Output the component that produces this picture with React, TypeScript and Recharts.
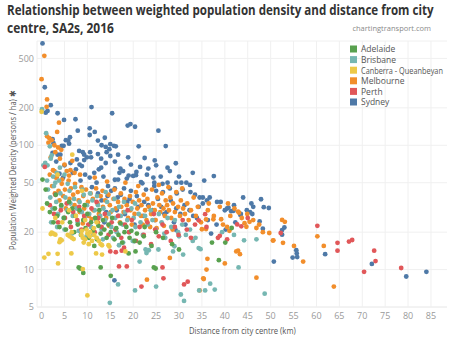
import React, { useLayoutEffect, useRef, useState } from 'react';
import { ScatterChart, Scatter, XAxis, YAxis, CartesianGrid } from 'recharts';

// [distance km, weighted density persons/ha]
const sydney: number[][] = [
  [0.2, 660], [0.7, 293], [0.9, 183], [1.3, 189], [2.0, 210], [3.5, 181], [4.9, 160], [7.4, 162], [10.9, 203], [7.9, 131],
  [15.4, 181], [18.8, 144], [19.4, 148], [20.4, 141], [10.5, 137], [11.6, 128], [10.5, 121], [13.8, 115], [2.4, 112], [2.6, 104],
  [5.3, 110], [5.8, 109], [6.2, 116], [6.0, 103], [4.4, 99], [4.8, 99], [12.3, 109], [13.1, 100], [12.3, 85], [14.0, 97],
  [15.0, 102], [15.8, 99], [16.2, 98], [14.8, 93], [21.2, 98], [8.2, 90], [9.0, 88], [9.3, 84], [10.6, 88], [10.8, 80],
  [13.0, 78], [16.7, 84], [15.0, 82], [14.2, 88], [7.7, 77], [9.3, 76], [9.9, 80], [8.3, 70], [8.8, 68], [2.4, 87],
  [3.5, 84], [4.1, 84], [3.2, 74], [5.0, 69], [6.3, 72], [7.5, 64], [3.9, 59], [4.7, 55], [18.9, 80], [16.0, 74],
  [21.5, 67], [23.3, 65], [20.7, 61], [20.6, 57.5], [20.0, 56.7], [24.7, 75.5], [29.3, 71.7], [25.5, 131], [27.1, 98.5], [18.6, 54],
  [16.7, 53], [16.0, 52.8], [21.7, 50.6], [22.0, 49.4], [24.6, 50], [24.6, 47], [27.5, 50], [26.4, 49], [29.4, 50], [30.5, 50],
  [31.6, 50], [32.4, 48], [24.4, 55], [37.6, 56.5], [17.2, 65], [17.8, 62], [12.5, 64], [11.5, 60], [13.5, 56], [10.5, 55],
  [14.5, 47], [16.0, 45], [18.0, 45], [19.5, 43], [12.0, 50], [8.5, 52], [11.0, 46], [22.8, 44], [25.0, 43], [26.5, 42],
  [28.0, 45], [29.5, 41], [30.8, 44], [32.5, 42], [33.5, 40], [34.5, 38], [35.2, 38], [35.2, 34], [36.7, 38], [38.3, 35],
  [39.1, 35], [40.5, 31], [41.4, 29.5], [41.9, 29.7], [43.4, 27.5], [44.8, 30], [45.5, 29], [46.2, 32], [46.0, 28], [47.9, 36.8],
  [48.5, 31.8], [49.6, 31.3], [47.6, 24.4], [48.3, 21.3], [53.0, 21.8], [52.5, 20.8], [52.5, 19.1], [50.7, 11.6], [54.8, 12.5], [55.7, 13.5],
  [55.8, 12.6], [55.6, 14.3], [61.9, 13.3], [72.1, 11.1], [79.6, 8.8], [84.0, 9.6], [36.1, 36], [37.0, 19.5], [40.0, 30], [40.8, 31.5],
  [42.0, 33], [44.0, 38], [43.5, 28], [45.8, 34], [12.3, 41], [13.1, 36], [14.4, 39], [15.2, 43], [16.6, 38], [17.3, 40],
  [18.7, 35], [19.2, 37], [20.8, 39], [21.1, 32], [22.4, 35], [23.3, 33], [24.2, 30], [25.4, 37], [26.1, 32], [27.3, 29],
  [28.2, 36], [29.4, 31], [30.3, 28], [31.2, 33], [32.3, 30], [33.1, 27], [34.3, 32], [22.2, 27], [24.7, 25], [26.8, 28],
  [28.9, 24], [31.4, 23], [33.9, 26], [20.3, 23], [18.2, 28], [16.4, 30], [14.1, 29], [13.7, 24], [29.2, 21], [36.3, 25],
  [38.2, 23], [40.2, 21], [42.3, 24], [17.0, 60], [19.0, 57], [23.0, 58], [26.0, 56], [28.0, 62], [30.0, 56], [33.0, 60],
  [35.5, 52], [27.5, 66], [25.0, 69], [14.0, 72], [19.5, 70], [22.5, 79], [13.0, 66], [15.9, 8.2], [9.5, 58], [6.8, 60],
];

const melbourne: number[][] = [
  [0.6, 524], [0.0, 340], [1.2, 234], [1.1, 204], [3.8, 152], [3.4, 128], [1.5, 105], [1.7, 114], [1.2, 118], [2.2, 110],
  [2.8, 100], [3.6, 96], [4.3, 92], [3.0, 88], [2.0, 80], [2.5, 63], [2.8, 62], [4.0, 78], [5.0, 70], [6.7, 75],
  [5.5, 62], [1.8, 58], [3.3, 55], [4.5, 53], [6.0, 57], [7.2, 60], [2.3, 47], [2.9, 41], [3.1, 55], [3.7, 43],
  [3.9, 36], [4.4, 49], [4.7, 39], [5.1, 44], [5.3, 31], [5.9, 52], [6.1, 37], [6.4, 45], [6.9, 40], [7.2, 33],
  [7.3, 49], [7.9, 42], [8.1, 36], [8.3, 29], [8.7, 46], [9.1, 39], [9.3, 31], [9.7, 44], [10.1, 35], [10.3, 27],
  [10.7, 41], [11.2, 37], [11.3, 30], [11.9, 45], [12.2, 34], [12.5, 28], [12.9, 39], [13.3, 43], [13.4, 32], [13.9, 36],
  [14.1, 26], [14.6, 40], [14.9, 33], [15.1, 29], [15.7, 37], [15.9, 44], [16.2, 31], [16.7, 35], [16.9, 27], [17.3, 41],
  [17.4, 32], [17.9, 29], [18.1, 37], [18.6, 33], [18.9, 26], [19.3, 39], [19.4, 30], [19.9, 35], [20.3, 28], [20.6, 42],
  [20.9, 31], [21.3, 36], [21.7, 27], [21.8, 33], [22.3, 40], [22.6, 30], [22.9, 25], [23.1, 37], [23.4, 32], [23.9, 28],
  [24.1, 44], [24.3, 34], [24.7, 30], [24.9, 25], [25.3, 38], [25.7, 33], [25.9, 29], [26.3, 41], [26.6, 31], [26.9, 27],
  [27.1, 36], [27.4, 33], [27.8, 30], [28.1, 38], [28.3, 26], [28.7, 34], [29.1, 29], [29.4, 42], [29.8, 32], [30.2, 27],
  [30.4, 36], [30.9, 31], [31.3, 28], [31.8, 34], [32.1, 25], [32.6, 30], [33.2, 38], [33.7, 27], [34.1, 32], [34.8, 24],
  [22.1, 23], [23.7, 22], [25.1, 21.5], [26.7, 22.5], [28.6, 21], [19.7, 23], [17.1, 24], [14.7, 22.5], [12.3, 24], [10.9, 25.5],
  [9.0, 23.5], [36.3, 30], [37.6, 27], [38.9, 32], [39.6, 23], [41.2, 27], [42.1, 31], [43.7, 26], [44.9, 28], [46.2, 25],
  [47.5, 23], [48.3, 20], [30.7, 45], [27.7, 46], [25.6, 48], [21.1, 47], [18.3, 50], [14.3, 51], [11.6, 55], [8.4, 58],
  [6.3, 63], [35.0, 21.1], [35.9, 21.2], [35.9, 25.3], [37.5, 25.4], [39.2, 25.4], [36.5, 34], [40.7, 34], [40.5, 22], [41.0, 20.5],
  [42.9, 29.3], [43.1, 28.7], [44.7, 22.1], [45.4, 24.2], [44.3, 23.6], [46.9, 21.6], [50.5, 17.1], [49.7, 19.7], [52.5, 25.1], [53.1, 24.2],
  [52.7, 16.4], [55.1, 15.5], [57.1, 11.6], [60.2, 18.5], [61.6, 15.5], [63.8, 7.3], [50.6, 17.2], [23.0, 8.3], [28.0, 12.4], [36.2, 12.2],
  [36.0, 10.0], [35.3, 8.5], [40.0, 11.2], [46.9, 8.6], [42.9, 14.2], [43.3, 13.3], [42.5, 14.0], [34.5, 6.8], [35.4, 8.4],
];

const brisbane: number[][] = [
  [0.1, 195], [1.0, 125], [1.8, 98], [2.2, 83], [0.8, 72], [0.4, 69], [1.3, 69], [2.0, 78], [3.3, 60], [2.5, 56],
  [1.2, 52], [4.0, 66], [5.0, 58], [3.0, 50], [1.4, 44], [1.9, 38], [2.4, 31], [2.7, 47], [3.2, 35], [3.6, 28],
  [4.1, 41], [4.3, 32], [4.8, 26], [5.2, 38], [5.6, 30], [6.1, 43], [6.3, 34], [6.8, 27], [7.1, 37], [7.6, 31],
  [7.9, 24], [8.3, 35], [8.8, 29], [9.2, 40], [9.4, 26], [9.9, 33], [10.4, 28], [10.8, 22], [11.1, 36], [11.6, 30],
  [11.9, 25], [12.3, 33], [12.8, 27], [13.1, 21], [13.5, 31], [13.9, 25], [14.3, 35], [14.7, 28], [15.2, 22], [15.5, 30],
  [16.1, 26], [16.4, 20], [16.9, 32], [17.3, 27], [17.7, 23], [18.2, 29], [18.7, 25], [19.1, 20], [19.6, 31], [20.1, 26],
  [20.5, 22], [21.2, 28], [21.6, 24], [22.1, 19], [22.6, 27], [23.2, 23], [23.8, 30], [24.2, 25], [24.9, 21], [25.6, 28],
  [26.2, 24], [26.8, 19.5], [27.5, 26], [28.3, 22], [29.1, 25], [29.8, 20], [30.7, 23], [31.5, 19], [32.4, 21], [33.6, 18],
  [3.8, 52], [5.7, 49], [7.3, 46], [8.9, 44], [10.6, 41], [12.1, 39], [14.0, 42], [15.9, 37], [18.0, 35], [20.4, 34],
  [2.1, 24], [3.4, 22], [5.0, 21], [6.6, 19.5], [8.1, 20.5], [9.8, 18.5], [11.3, 19], [13.4, 17.5], [15.6, 18], [17.8, 16.5],
  [19.9, 17], [16.9, 15.7], [20.2, 16.9], [22.7, 14.5], [23.4, 14.3], [22.9, 13.6], [25.5, 14.5], [21.4, 11.6], [29.0, 15.4], [28.7, 14.0],
  [30.9, 13.2], [27.0, 18], [30.0, 18.5], [33.0, 17], [34.3, 14.9], [34.7, 14.6], [39.4, 20], [42.0, 19], [44.2, 17.2], [46.9, 17.5],
  [43.0, 10.4], [48.7, 6.4], [37.8, 6.9], [35.7, 6.8], [36.8, 7.7], [34.4, 6.8], [30.4, 6.3], [31.1, 5.6], [25.0, 7.3], [20.4, 6.8],
  [16.7, 7.6], [14.9, 5.4],
];

const adelaide: number[][] = [
  [0.2, 53], [0.9, 44], [3.1, 40], [1.2, 34], [1.8, 29], [2.6, 24], [2.9, 31], [3.4, 27], [3.9, 22], [4.3, 33],
  [4.9, 26], [5.3, 21], [5.8, 29], [6.2, 24], [6.7, 31], [7.1, 20], [7.4, 27], [7.9, 23], [8.3, 30], [8.6, 19],
  [9.1, 25], [9.6, 21.5], [10.0, 28], [10.3, 18], [10.8, 24], [11.2, 20.5], [11.7, 26], [12.1, 17.5], [12.4, 22.5], [12.9, 19.5],
  [13.4, 25], [13.7, 21], [14.2, 18], [14.6, 23], [15.1, 20], [15.4, 26], [15.9, 17.5], [16.3, 21.5], [16.8, 19], [17.2, 23.5],
  [17.6, 16.5], [18.1, 20], [18.5, 22], [19.2, 18], [19.6, 20.5], [20.3, 17], [20.8, 19.5], [21.4, 16.5], [22.3, 18.5], [6.0, 35],
  [9.4, 33], [12.6, 30], [8.1, 10.4], [8.4, 10.2], [9.1, 9.4], [12.9, 10.4], [15.1, 8.9], [24.5, 10.4], [24.9, 10.2], [38.7, 11.9],
  [41.5, 21.6], [40.1, 16.5], [37.2, 16.5], [24.0, 15.5], [26.5, 18], [28.5, 16], [30.0, 14.5], [20.5, 14], [19.0, 13.5], [11.5, 15.5],
  [22.5, 22], [25.0, 20],
];

const canberra: number[][] = [
  [0.0, 186], [6.7, 84], [3.5, 58], [8.8, 43], [0.2, 31], [0.6, 12.5], [1.5, 13.4], [3.5, 13.4], [3.6, 11.2], [9.0, 10.1],
  [10.0, 6.2], [2.2, 19.8], [2.0, 19.3], [2.6, 19.5], [3.0, 19.1], [4.1, 17.5], [4.4, 17.2], [3.9, 16.6], [5.7, 19.0], [6.1, 18.5],
  [6.6, 18.0], [7.0, 17.6], [6.6, 20.0], [6.5, 13.5], [8.7, 19.0], [9.0, 18.0], [9.5, 17.5], [10.0, 19.5], [10.5, 18.5], [11.0, 17.0],
  [11.5, 19.0], [8.8, 20.5], [9.8, 21.0], [10.6, 20.0], [11.4, 21.5], [12.0, 18.0], [12.5, 17.0], [9.2, 16.5], [10.3, 16.0], [12.9, 16.0],
  [13.2, 15.7], [14.6, 15.7], [14.8, 15.3], [11.9, 13.5], [13.2, 13.2], [18.3, 14.0], [4.5, 24], [3.0, 26], [7.5, 27], [9.5, 25],
  [12.0, 24], [6.0, 30],
];

const perth: number[][] = [
  [0.7, 67], [3.0, 40], [5.5, 34], [8.2, 32], [12.0, 35], [18.8, 30], [24.5, 28], [1.8, 33], [2.7, 28], [3.6, 24],
  [4.2, 30], [5.1, 26], [6.4, 22], [6.9, 29], [7.8, 25], [8.7, 21], [9.3, 27], [10.2, 23], [10.9, 31], [11.6, 20],
  [12.4, 26], [13.1, 22], [13.8, 28], [14.6, 19], [15.3, 24], [16.1, 21], [16.7, 27], [17.4, 18], [18.2, 23], [19.1, 20],
  [19.7, 25], [20.6, 17], [21.4, 22], [22.3, 19], [23.1, 24], [23.9, 16], [24.8, 21], [25.6, 18.5], [26.4, 23], [27.3, 20],
  [28.2, 17], [29.1, 22], [29.9, 19], [30.8, 25], [31.7, 21], [32.6, 18], [33.5, 23], [35.7, 27.9], [34.3, 24.9], [38.5, 18],
  [38.9, 18.7], [40.5, 17.5], [43.6, 22.3], [42.7, 23.1], [45.0, 26], [36.0, 22], [16.9, 10.6], [18.6, 10.6], [21.8, 7.3], [26.4, 10.4],
  [26.6, 8.5], [31.1, 7.6], [31.9, 8.0], [18.0, 15], [15.0, 14], [17.5, 14.2], [16.2, 13.8], [60.2, 22.5], [64.6, 16.4], [64.6, 14.2],
  [67.1, 16.8], [67.8, 17.3], [70.4, 9.6], [72.6, 14.2], [72.9, 11.7], [78.5, 10.3], [52.2, 19.7],
];

const xTicks = [0, 5, 10, 15, 20, 25, 30, 35, 40, 45, 50, 55, 60, 65, 70, 75, 80, 85];
const yTicks = [5, 10, 20, 50, 100, 200, 500];

const colors: Record<string, string> = {
  Adelaide: '#59a14f',
  Brisbane: '#76b7b2',
  'Canberra - Queanbeyan': '#edc948',
  Melbourne: '#f28e2b',
  Perth: '#e15759',
  Sydney: '#4e79a7',
};

// draw order (later on top)
const series = [
  { name: 'Sydney', pts: sydney },
  { name: 'Melbourne', pts: melbourne },
  { name: 'Brisbane', pts: brisbane },
  { name: 'Perth', pts: perth },
  { name: 'Adelaide', pts: adelaide },
  { name: 'Canberra - Queanbeyan', pts: canberra },
];

const legendOrder = ['Adelaide', 'Brisbane', 'Canberra - Queanbeyan', 'Melbourne', 'Perth', 'Sydney'];

const font = '"Open Sans", "Noto Sans", sans-serif';
const tickStyle = { fontSize: 9, fill: '#9a9a9a', fontFamily: font };

// svg text squeezed horizontally to a given width
function FitText({ x, y, width, children, ...rest }: any) {
  const ref = useRef<SVGTextElement>(null);
  const [sx, setSx] = useState(1);
  useLayoutEffect(() => {
    if (ref.current) {
      const w = ref.current.getComputedTextLength();
      if (w > 0) setSx(width / w);
    }
  }, [width]);
  return (
    <text ref={ref} transform={`translate(${x},${y}) scale(${sx},1)`} fontFamily={font} {...rest}>
      {children}
    </text>
  );
}

export default function App() {
  return (
    <div style={{ position: 'absolute', left: 0, top: 0, width: 449, height: 337, background: '#fff', fontFamily: font }}>
      <ScatterChart width={449} height={337} margin={{ top: 41, right: 2, left: 0, bottom: 0 }}>
        <CartesianGrid stroke="#f0f0f0" verticalValues={xTicks} />
        <XAxis type="number" dataKey="x" domain={[-1, 88.5]} ticks={xTicks} allowDataOverflow
          tickLine={false} tickSize={0} tickMargin={6} axisLine={{ stroke: '#eeeeee' }} height={30} tick={tickStyle} />
        <YAxis type="number" dataKey="y" scale="log" domain={[5, 690]} ticks={yTicks} allowDataOverflow
          tickLine={false} tickSize={0} tickMargin={3} axisLine={{ stroke: '#eeeeee' }} width={37} tick={tickStyle} />
        {series.map((s) => (
          <Scatter key={s.name} name={s.name} data={s.pts.map(([x, y]) => ({ x, y }))} isAnimationActive={false}
            shape={(p: any) => <circle cx={p.cx} cy={p.cy} r={2.4} fill={colors[s.name]} />} />
        ))}
      </ScatterChart>
      <svg width={449} height={337} style={{ position: 'absolute', left: 0, top: 0, pointerEvents: 'none' }}>
        <FitText x={7} y={15} width={427} fontSize={13.5} fontWeight={700} fill="#333">
          Relationship between weighted population density and distance from city
        </FitText>
        <FitText x={7} y={33} width={107} fontSize={13.5} fontWeight={700} fill="#333">
          centre, SA2s, 2016
        </FitText>
        <text x={431} y={31} fontSize={7.5} fill="#8a8a8a" textAnchor="end" fontFamily={font}>chartingtransport.com</text>
        <FitText x={189} y={334} width={107} fontSize={8.5} fill="#555">
          Distance from city centre (km)
        </FitText>
        <g transform="translate(16,250) rotate(-90)">
          <FitText x={0} y={0} width={160} fontSize={8.5} fill="#555">
            Population Weighted Density (persons / ha) ✱
          </FitText>
        </g>
        {legendOrder.map((n, i) => (
          <g key={n}>
            <rect x={350} y={45.5 + i * 10.6} width={7} height={7} fill={colors[n]} />
            {n === 'Canberra - Queanbeyan' ? (
              <FitText x={361} y={52.3 + i * 10.6} width={82} fontSize={8.5} fill="#555">{n}</FitText>
            ) : (
              <text x={361} y={52.3 + i * 10.6} fontSize={8.5} fill="#555" fontFamily={font}>{n}</text>
            )}
          </g>
        ))}
      </svg>
    </div>
  );
}
